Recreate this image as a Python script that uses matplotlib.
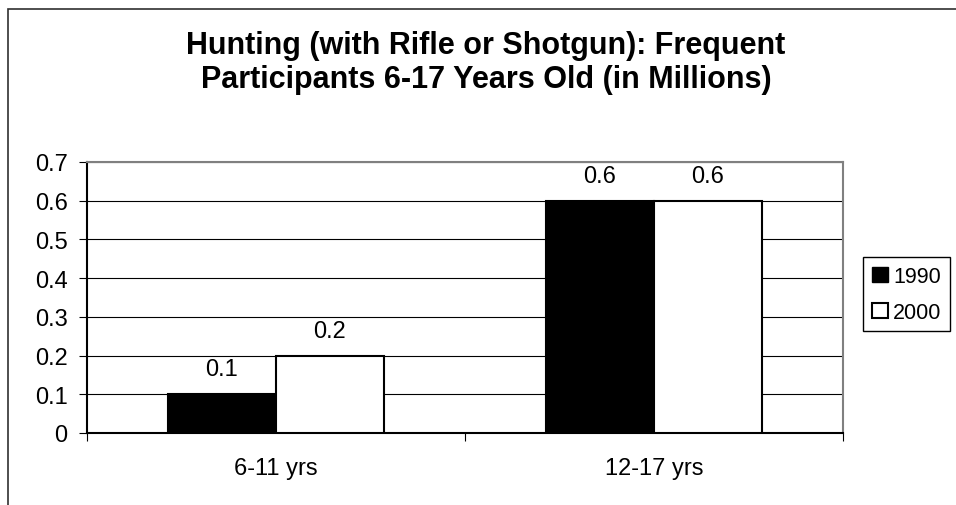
"""hunting participants 6-17 chart"""

import numpy as np
import matplotlib.pyplot as plt
from matplotlib.patches import Patch, Rectangle

plt.rcParams['font.family'] = ['Liberation Sans', 'DejaVu Sans']

categories = ["6-11 yrs", "12-17 yrs"]
years = ["1990", "2000"]
values_1990 = [0.1, 0.6]
values_2000 = [0.2, 0.6]
yticks = [0, 0.1, 0.2, 0.3, 0.4, 0.5, 0.6, 0.7]
title = "Hunting (with Rifle or Shotgun): Frequent\nParticipants 6-17 Years Old (in Millions)"

fig = plt.figure(figsize=(9.56, 5.06), dpi=100)
ax = fig.add_axes([87 / 956, 1 - 434 / 506, 756 / 956, 271 / 506])

# outer chart border (cut off on right and bottom)
fig.patches.append(Rectangle((8 / 956, -0.1), 1.1, 0.1 + 496 / 506,
                             transform=fig.transFigure, fill=False,
                             edgecolor="#303030", linewidth=1.2))

x = np.arange(len(categories))
w = 108 / 378
b1 = ax.bar(x - w / 2, values_1990, w, color="black", edgecolor="black",
            linewidth=1.5, zorder=3)
b2 = ax.bar(x + w / 2, values_2000, w, color="white", edgecolor="black",
            linewidth=1.5, zorder=3)
for bars in (b1, b2):
    ax.bar_label(bars, labels=[f"{v:g}" for v in bars.datavalues],
                 padding=10, fontsize=17)

ax.set_xlim(-0.5, len(categories) - 0.5)
ax.set_ylim(0, 0.7)
ax.set_yticks(yticks)
ax.set_yticklabels([f"{t:g}" for t in yticks], fontsize=17)
ax.yaxis.grid(True, color="black", linewidth=0.8, zorder=0)
ax.set_axisbelow(True)

# category boundaries get the ticks, labels sit in the middle
ax.set_xticks(np.arange(len(categories) + 1) - 0.5)
ax.set_xticklabels([])
ax.set_xticks(x, minor=True)
ax.set_xticklabels(categories, minor=True, fontsize=17)
ax.tick_params(axis="x", which="minor", length=0, pad=17)
ax.tick_params(axis="x", which="major", length=6, color="black", direction="out")
ax.tick_params(axis="y", length=6, color="black", pad=8)

ax.spines["left"].set_color("black")
ax.spines["bottom"].set_color("black")
ax.spines["top"].set_color("#808080")
ax.spines["right"].set_color("#808080")
for s in ax.spines.values():
    s.set_linewidth(1.5)

fig.text(486 / 956, 1 - 63 / 506, title, ha="center", va="center",
         fontsize=22, fontweight="bold", linespacing=1.15)

handles = [Patch(facecolor="black", edgecolor="black"),
           Patch(facecolor="white", edgecolor="black", linewidth=1.5)]
fig.legend(handles, years, loc="upper left",
           bbox_to_anchor=(863 / 956, 1 - 258 / 506), borderaxespad=0,
           fontsize=15.5, handlelength=0.75, handleheight=0.7,
           handletextpad=0.25, labelspacing=0.7, borderpad=0.4,
           fancybox=False, framealpha=1, edgecolor="black")

fig.savefig("out.png", dpi=100)
